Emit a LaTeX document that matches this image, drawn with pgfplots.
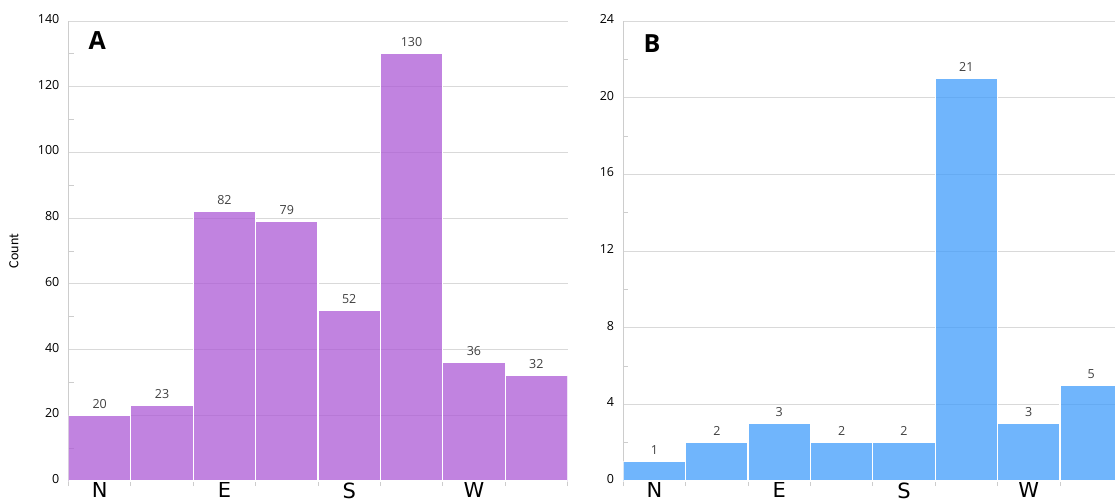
\documentclass[border=0pt]{standalone}
\usepackage{pgfplots}
\pgfplotsset{compat=1.18}
\usepackage{fontspec}
\setmainfont{Open Sans}
\newfontfamily\dejavu{DejaVu Sans}
\newfontfamily\carlito{Carlito}
\definecolor{purp}{RGB}{172,90,214}
\definecolor{blu}{RGB}{64,156,251}
\definecolor{gridc}{RGB}{217,217,217}
\definecolor{axc}{RGB}{205,205,205}

\begin{document}
\begin{tikzpicture}
\begin{scope}
\clip (0pt,0pt) rectangle (1115pt,498pt);
\pgfplotsset{
  panel/.style={
    scale only axis, width=499pt, height=460pt, anchor=south west,
    xmin=0, xmax=8, ymin=0, enlargelimits=false,
    /pgf/number format/assume math mode=true,
    axis x line*=bottom, axis y line*=left,
    axis line style={axc, line width=0.8pt},
    ymajorgrids, major grid style={gridc, line width=0.9pt},
    xtick={0.5,2.5,4.5,6.5}, xticklabels={N,E,S,W},
    major x tick style={draw=none},
    minor xtick={0,1,...,8},
    xtick align=outside,
    minor x tick style={axc, line width=0.8pt},
    minor tick length=5pt,
    major y tick style={draw=none},
    minor y tick num=1,
    minor y tick style={axc, line width=0.8pt},
    x tick label style={font=\dejavu\fontsize{21}{21}\selectfont, anchor=north, inner sep=0pt, yshift=3pt},
    y tick label style={font=\fontsize{12.5}{12.5}\selectfont, anchor=east, inner sep=0pt, xshift=-9pt, yshift=2pt},
    nodes near coords,
    every node near coord/.append style={font=\fontsize{12.5}{12.5}\selectfont, black, yshift=3pt},
  },
  barsty/.style={ybar, bar width=1, bar shift=0pt, fill=#1, fill opacity=0.75, draw=white, line width=1.2pt},
}
\begin{axis}[panel, at={(68.5pt,17pt)}, ymax=140, ytick={0,20,...,140},
  ylabel={Count}, ylabel style={font=\carlito\fontsize{14}{14}\selectfont, at={(axis description cs:0,0.5)}, anchor=center, yshift=54.5pt}]
\addplot[barsty=purp] coordinates {(0.5,20) (1.5,23) (2.5,82) (3.5,79) (4.5,52) (5.5,130) (6.5,36) (7.5,32)};
\node[font=\bfseries\fontsize{25}{25}\selectfont] at (axis cs:0.46,134.2) {A};
\end{axis}
\begin{axis}[panel, at={(623.3pt,17pt)}, ymax=24, ytick={0,4,...,24}]
\addplot[barsty=blu] coordinates {(0.5,1) (1.5,2) (2.5,3) (3.5,2) (4.5,2) (5.5,21) (6.5,3) (7.5,5)};
\node[font=\bfseries\fontsize{25}{25}\selectfont] at (axis cs:0.46,22.8) {B};
\end{axis}
\end{scope}
\pgfresetboundingbox
\useasboundingbox (0pt,0pt) rectangle (1115pt,498pt);
\end{tikzpicture}
\end{document}
